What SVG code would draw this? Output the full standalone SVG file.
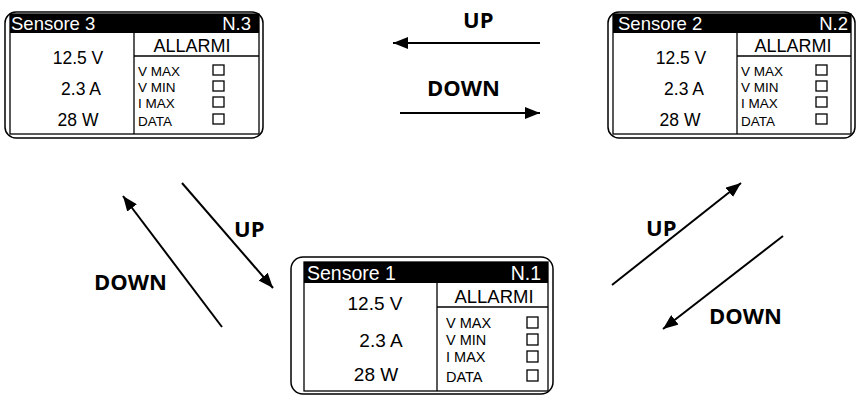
<svg xmlns="http://www.w3.org/2000/svg" width="857" height="396" viewBox="0 0 857 396">
<defs>
<style>
.outer{fill:#fff;stroke:#000;stroke-width:1.5}
.inner{fill:none;stroke:#000;stroke-width:1.3}
.hdr{fill:#000}
.ln{stroke:#000;stroke-width:1.3}
.cb{fill:none;stroke:#000;stroke-width:1.3}
.ht{font-family:"Liberation Sans",Arial,sans-serif;fill:#fff;font-size:18.5px}
.al{font-family:"Liberation Sans",Arial,sans-serif;fill:#000;font-size:18px;text-anchor:middle}
.val{font-family:"Liberation Sans",Arial,sans-serif;fill:#000;font-size:17.5px;text-anchor:middle}
.it{font-family:"Liberation Sans",Arial,sans-serif;fill:#000;font-size:13.5px}
.lbl{font-family:"Open Sans","Liberation Sans",sans-serif;font-weight:bold;font-size:22px;fill:#000}
.arr{stroke:#000;stroke-width:2;fill:none;marker-end:url(#ah)}
</style>
<marker id="ah" viewBox="0 0 15 12" refX="15" refY="6" markerWidth="15" markerHeight="12" markerUnits="userSpaceOnUse" orient="auto">
<path d="M0,0 L15,6 L0,12 z" fill="#000"/>
</marker>
</defs>

<g id="sensore3">
<rect class="outer" x="5" y="12" width="258" height="126" rx="11"/>
<rect class="inner" x="10" y="14" width="249" height="120"/>
<rect class="hdr" x="10" y="14" width="249" height="19"/>
<text class="ht" x="11" y="30">Sensore 3</text>
<text class="ht" x="251" y="30" text-anchor="end">N.3</text>
<line class="ln" x1="134" y1="33" x2="134" y2="134"/>
<line class="ln" x1="134" y1="56" x2="259" y2="56"/>
<text class="al" x="192" y="52">ALLARMI</text>
<text class="val" x="78" y="64">12.5 V</text>
<text class="val" x="81" y="95">2.3 A</text>
<text class="val" x="78" y="126">28 W</text>
<text class="it" x="138" y="76">V MAX</text>
<text class="it" x="138" y="92">V MIN</text>
<text class="it" x="138" y="108">I MAX</text>
<text class="it" x="138" y="126">DATA</text>
<rect class="cb" x="213" y="65" width="11" height="10"/>
<rect class="cb" x="213" y="81" width="11" height="10"/>
<rect class="cb" x="213" y="97" width="11" height="10"/>
<rect class="cb" x="213" y="114" width="11" height="10"/>
</g>

<g id="sensore2">
<rect class="outer" x="608" y="12" width="247" height="126" rx="11"/>
<rect class="inner" x="613" y="14" width="238" height="120"/>
<rect class="hdr" x="613" y="14" width="238" height="19"/>
<text class="ht" x="618" y="30">Sensore 2</text>
<text class="ht" x="848" y="30" text-anchor="end">N.2</text>
<line class="ln" x1="737" y1="33" x2="737" y2="134"/>
<line class="ln" x1="737" y1="56" x2="851" y2="56"/>
<text class="al" x="793" y="52">ALLARMI</text>
<text class="val" x="681" y="64">12.5 V</text>
<text class="val" x="684" y="95">2.3 A</text>
<text class="val" x="680" y="126">28 W</text>
<text class="it" x="741" y="76">V MAX</text>
<text class="it" x="741" y="92">V MIN</text>
<text class="it" x="741" y="108">I MAX</text>
<text class="it" x="741" y="126">DATA</text>
<rect class="cb" x="816" y="65" width="11" height="10"/>
<rect class="cb" x="816" y="81" width="11" height="10"/>
<rect class="cb" x="816" y="97" width="11" height="10"/>
<rect class="cb" x="816" y="114" width="11" height="10"/>
</g>

<g id="sensore1">
<rect class="outer" x="291" y="257" width="262" height="137" rx="12"/>
<rect class="inner" x="304" y="262" width="244" height="129"/>
<rect class="hdr" x="304" y="262" width="244" height="21"/>
<text class="ht" x="307" y="280" style="font-size:19.5px">Sensore 1</text>
<text class="ht" x="541" y="280" text-anchor="end" style="font-size:19.5px">N.1</text>
<line class="ln" x1="437" y1="283" x2="437" y2="391"/>
<line class="ln" x1="437" y1="307" x2="548" y2="307"/>
<text class="al" x="494" y="303" style="font-size:18.5px">ALLARMI</text>
<text class="val" x="375" y="310" style="font-size:19px">12.5 V</text>
<text class="val" x="381" y="347" style="font-size:19px">2.3 A</text>
<text class="val" x="376" y="381" style="font-size:19px">28 W</text>
<text class="it" x="446" y="328" style="font-size:14.5px">V MAX</text>
<text class="it" x="446" y="345" style="font-size:14.5px">V MIN</text>
<text class="it" x="446" y="362" style="font-size:14.5px">I MAX</text>
<text class="it" x="446" y="382" style="font-size:14.5px">DATA</text>
<rect class="cb" x="527" y="317" width="11" height="11"/>
<rect class="cb" x="527" y="334" width="11" height="11"/>
<rect class="cb" x="527" y="351" width="11" height="11"/>
<rect class="cb" x="527" y="370" width="11" height="11"/>
</g>

<g id="connectors">
<line class="arr" x1="540" y1="43" x2="393" y2="43"/>
<line class="arr" x1="400" y1="113" x2="540" y2="113"/>
<line class="arr" x1="182" y1="183" x2="273" y2="288"/>
<line class="arr" x1="222" y1="327" x2="123" y2="196"/>
<line class="arr" x1="612" y1="285" x2="741" y2="183"/>
<line class="arr" x1="783" y1="236" x2="663" y2="329"/>
</g>

<g id="labels">
<text class="lbl" x="463" y="28">UP</text>
<text class="lbl" x="427" y="96">DOWN</text>
<text class="lbl" x="234" y="237">UP</text>
<text class="lbl" x="94" y="290">DOWN</text>
<text class="lbl" x="646" y="236">UP</text>
<text class="lbl" x="709" y="324">DOWN</text>
</g>
</svg>
